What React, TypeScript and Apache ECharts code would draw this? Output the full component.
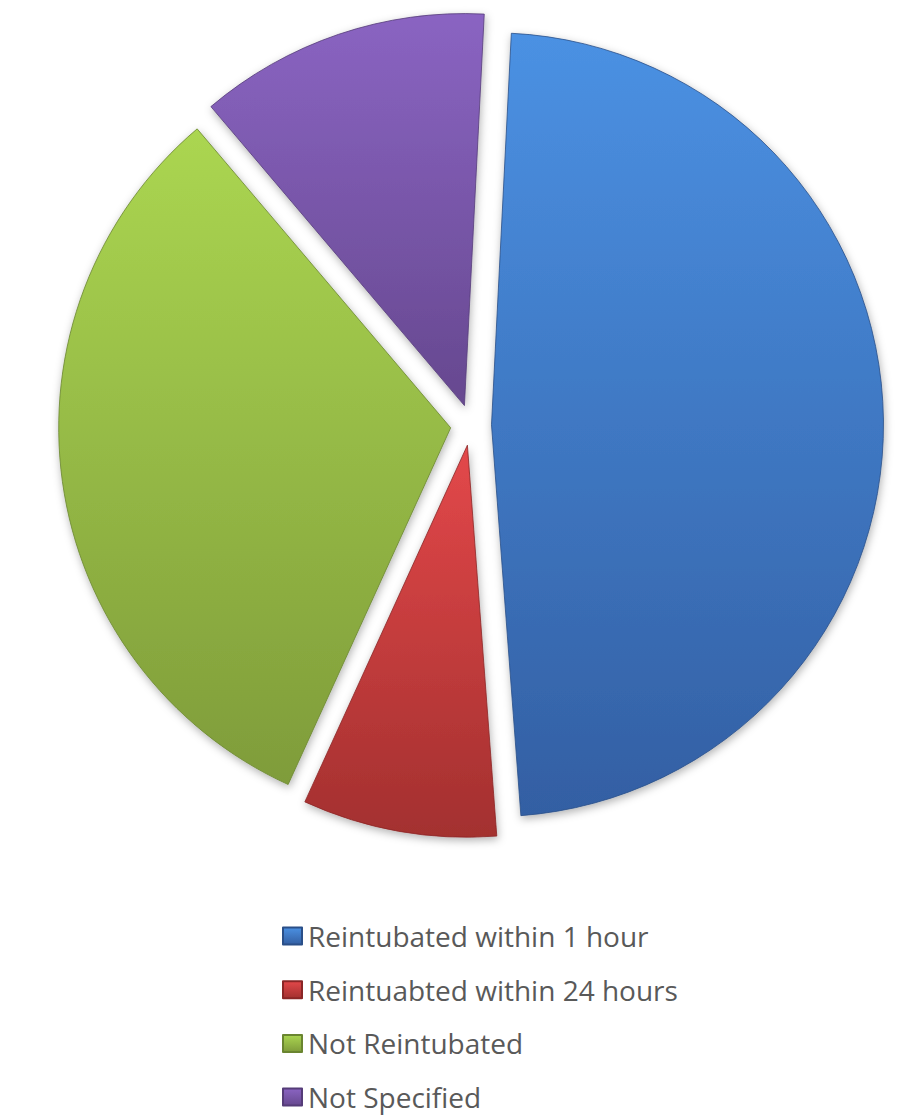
import React, { useEffect, useRef } from "react";
import * as echarts from "echarts";

const categories = [
  "Reintubated within 1 hour",
  "Reintuabted within 24 hours",
  "Not Reintubated",
  "Not Specified",
];
const values = [12, 2, 8, 3];
const topColors = ["#4b91e3", "#e3484a", "#abd651", "#8a64c2"];
const bottomColors = ["#335fa3", "#a3302f", "#7f9c3a", "#66488f"];
const edgeColors = ["#2a4f88", "#8a2626", "#6a8530", "#553c78"];

export default function App() {
  const ref = useRef<HTMLDivElement>(null);
  useEffect(() => {
    if (!ref.current) return;
    const chart = echarts.init(ref.current, undefined, { renderer: "svg" });
    chart.setOption({
      animation: false,
      backgroundColor: "#ffffff",
      legend: {
        orient: "vertical",
        left: 282,
        top: 922,
        padding: 0,
        itemWidth: 19,
        itemHeight: 17,
        itemGap: 25.7,
        icon: "rect",
        textStyle: {
          fontFamily: "Open Sans",
          fontSize: 28,
          color: "#595959",
          lineHeight: 28,
          padding: [0, 0, 0, 1],
        },
        data: categories,
      },
      series: [
        {
          type: "pie",
          center: [471, 425],
          radius: 392,
          startAngle: 87.1,
          clockwise: true,
          selectedMode: "multiple",
          selectedOffset: 20.5,
          label: { show: false },
          labelLine: { show: false },
          emphasis: { disabled: true },
          data: categories.map((name, i) => ({
            name,
            value: values[i],
            selected: true,
            itemStyle: {
              color: new echarts.graphic.LinearGradient(0, 0, 0, 1, [
                { offset: 0, color: topColors[i] },
                { offset: 1, color: bottomColors[i] },
              ]),
              borderColor: edgeColors[i],
              borderWidth: 0.8,
              shadowBlur: 8,
              shadowColor: "rgba(0,0,0,0.3)",
              shadowOffsetX: 1,
              shadowOffsetY: 3,
            },
          })),
        },
      ],
    });
    return () => chart.dispose();
  }, []);
  return (
    <div
      ref={ref}
      style={{ position: "fixed", left: 0, top: 0, width: 912, height: 1120 }}
    />
  );
}
